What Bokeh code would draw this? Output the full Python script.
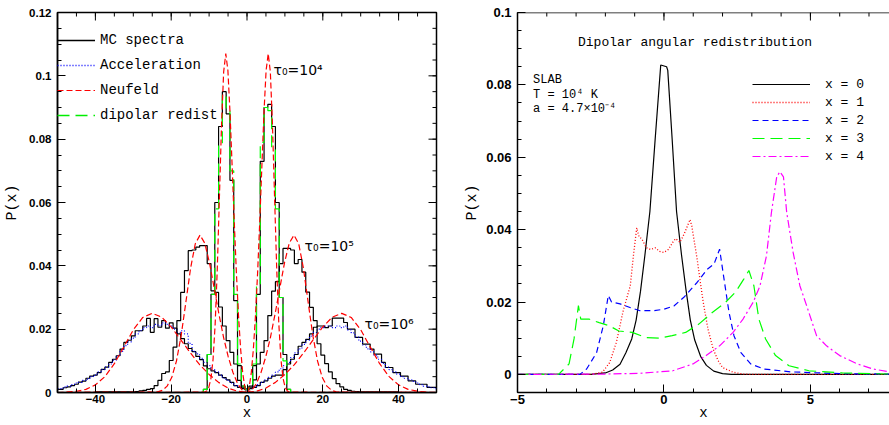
import math
from bokeh.plotting import figure
from bokeh.models import (FixedTicker, CustomJSTickFormatter, Legend, LegendItem, Label,
                          Range1d, Span)
from bokeh.layouts import row
from bokeh.embed import file_html
from bokeh.resources import INLINE

# ---------------- left panel data ----------------
mc1e4_x = list(range(-12, 13))
mc1e4_y = [0, 0.001, 0.012, 0.031, 0.060, 0.084, 0.095, 0.088, 0.067, 0.029, 0.0085, 0.002,
           0.001, 0.002, 0.0085, 0.031, 0.073, 0.090, 0.091, 0.084, 0.060, 0.030, 0.012, 0.001, 0]
dip1e4_y = [0, 0.001, 0.012, 0.031, 0.058, 0.078, 0.094, 0.089, 0.070, 0.031, 0.009, 0.002,
            0.001, 0.002, 0.009, 0.034, 0.079, 0.090, 0.089, 0.077, 0.058, 0.030, 0.010, 0.001, 0]

mc1e5_x = list(range(-30, 31))
mc1e5_y = [0.0002, 0.0003, 0.0005, 0.0007, 0.001, 0.0012, 0.0022, 0.0038, 0.006, 0.0065,
           0.0101, 0.0143, 0.0227, 0.0316, 0.0385, 0.0448, 0.045, 0.0459, 0.0464, 0.0464,
           0.0407, 0.0321, 0.0316, 0.027, 0.021, 0.0164, 0.0127, 0.009, 0.0038, 0.0015,
           0.0008,
           0.0015, 0.004, 0.009, 0.0127, 0.0164, 0.0243, 0.032, 0.035, 0.0407, 0.0455,
           0.0455, 0.045, 0.0407, 0.042, 0.038, 0.0317, 0.0269, 0.0227, 0.0154, 0.0118,
           0.0091, 0.0065, 0.0044, 0.0028, 0.0018, 0.001, 0.0007, 0.0004, 0.0003, 0.0002]

mc1e6_x = list(range(-50, 51))
mc1e6_y = [0.001, 0.001, 0.0015, 0.0018, 0.0022, 0.0026, 0.0033, 0.0036, 0.0045, 0.0052,
           0.0055, 0.0063, 0.0073, 0.008, 0.0095, 0.0105, 0.0116, 0.0137, 0.0158, 0.0165,
           0.0179, 0.0195, 0.0195, 0.021, 0.0234, 0.019, 0.0233, 0.0206, 0.0227, 0.0203,
           0.022, 0.0203, 0.0185, 0.017, 0.0154, 0.0139, 0.0129, 0.0114, 0.0104, 0.0084,
           0.0075, 0.0068, 0.0063, 0.0055, 0.0047, 0.004, 0.0032, 0.0022, 0.0016, 0.0012,
           0.001,
           0.0012, 0.0016, 0.0022, 0.0032, 0.0037, 0.0045, 0.0052, 0.0055, 0.0055, 0.0072,
           0.009, 0.0105, 0.012, 0.0146, 0.0158, 0.0168, 0.0185, 0.0206, 0.021, 0.021,
           0.0205, 0.021, 0.0235, 0.0235, 0.0235, 0.0221, 0.02, 0.02, 0.0174, 0.0174,
           0.0153, 0.0153, 0.0137, 0.0121, 0.0121, 0.0095, 0.0079, 0.0079, 0.0063, 0.0063,
           0.0052, 0.0052, 0.0037, 0.0037, 0.0026, 0.0026, 0.0026, 0.0016, 0.0016, 0.0016]
acc1e6_y = [0.0012, 0.0012, 0.0018, 0.002, 0.0025, 0.003, 0.0032, 0.0038, 0.0042, 0.005,
            0.0055, 0.0065, 0.0072, 0.008, 0.009, 0.0102, 0.0115, 0.013, 0.0148, 0.016,
            0.0172, 0.0185, 0.0195, 0.0205, 0.021, 0.0205, 0.0215, 0.021, 0.022, 0.0215,
            0.021, 0.02, 0.019, 0.0195, 0.0185, 0.0155, 0.013, 0.0122, 0.0108, 0.0095,
            0.0085, 0.0072, 0.0065, 0.0055, 0.0045, 0.0038, 0.003, 0.0022, 0.0018, 0.0014,
            0.0012,
            0.0014, 0.0018, 0.0025, 0.0032, 0.004, 0.0048, 0.0055, 0.0065, 0.0075, 0.0085,
            0.0095, 0.011, 0.0125, 0.0138, 0.0152, 0.0165, 0.0178, 0.019, 0.02, 0.0205,
            0.021, 0.021, 0.0205, 0.021, 0.0205, 0.021, 0.0198, 0.0188, 0.0175, 0.0162,
            0.015, 0.0138, 0.0128, 0.0118, 0.0105, 0.0092, 0.008, 0.0072, 0.0065, 0.0058,
            0.005, 0.0045, 0.004, 0.0035, 0.003, 0.0025, 0.002, 0.0018, 0.0015, 0.0012]

neuf1e4_x = [-50, -11.2, -10.64, -10.08, -9.52, -8.96, -8.4, -7.84, -7.28, -6.72, -6.16, -5.6,
             -5.04, -4.48, -3.92, -3.36, -2.8, -2.24, -1.68, -1.12, -0.56, 0,
             0.56, 1.12, 1.68, 2.24, 2.8, 3.36, 3.92, 4.48, 5.04, 5.6, 6.16, 6.72, 7.28,
             7.84, 8.4, 8.96, 9.52, 10.08, 10.64, 11.2, 50]
neuf1e4_y = [0, 0.0001, 0.0005, 0.0016, 0.0044, 0.0104, 0.0216, 0.0391, 0.0616, 0.0845, 0.1012,
             0.107, 0.1017, 0.0884, 0.0714, 0.0538, 0.0378, 0.0243, 0.0137, 0.0061, 0.0015, 0,
             0.0015, 0.0061, 0.0137, 0.0243, 0.0378, 0.0538, 0.0714, 0.0884, 0.1017, 0.107,
             0.1012, 0.0845, 0.0616, 0.0391, 0.0216, 0.0104, 0.0044, 0.0016, 0.0005, 0.0001, 0]

neuf1e5_x = [-50, -24.8, -23.56, -22.32, -21.08, -19.84, -18.6, -17.36, -16.12, -14.88, -13.64,
             -12.4, -11.16, -9.92, -8.68, -7.44, -6.2, -4.96, -3.72, -2.48, -1.24, 0,
             1.24, 2.48, 3.72, 4.96, 6.2, 7.44, 8.68, 9.92, 11.16, 12.4, 13.64, 14.88, 16.12,
             17.36, 18.6, 19.84, 21.08, 22.32, 23.56, 24.8, 50]
neuf1e5_y = [0, 0.0001, 0.0002, 0.0007, 0.0020, 0.0048, 0.0100, 0.0181, 0.0286, 0.0393, 0.0470,
             0.0497, 0.0472, 0.0411, 0.0331, 0.0250, 0.0175, 0.0113, 0.0064, 0.0028, 0.0007, 0,
             0.0007, 0.0028, 0.0064, 0.0113, 0.0175, 0.0250, 0.0331, 0.0411, 0.0472, 0.0497,
             0.0470, 0.0393, 0.0286, 0.0181, 0.0100, 0.0048, 0.0020, 0.0007, 0.0002, 0.0001, 0]

neuf1e6_x = [-50, -47.5, -45, -42.5, -40, -37.5, -35, -32.5, -30, -27.5, -25, -22.5, -20,
             -17.5, -15, -12.5, -10, -7.5, -5, -2.5, 0, 2.5, 5, 7.5, 10, 12.5, 15, 17.5, 20,
             22.5, 25, 27.5, 30, 32.5, 35, 37.5, 40, 42.5, 45, 47.5, 50]
neuf1e6_y = [0.0, 0.0001, 0.0004, 0.0010, 0.0024, 0.0050, 0.0091, 0.0144, 0.0198, 0.0237, 0.025,
             0.0238, 0.0207, 0.0167, 0.0126, 0.0088, 0.0057, 0.0032, 0.0014, 0.0004, 0,
             0.0004, 0.0014, 0.0032, 0.0057, 0.0088, 0.0126, 0.0167, 0.0207, 0.0238, 0.025,
             0.0237, 0.0198, 0.0144, 0.0091, 0.0050, 0.0024, 0.0010, 0.0004, 0.0001, 0.0]

# ---------------- right panel data ----------------
x0_x = [-5.0, -2.5, -2.0, -1.75, -1.5, -1.3, -1.1, -0.95, -0.8, -0.65, -0.48, -0.3, -0.11, 0.09,
        0.13, 0.28, 0.43, 0.6, 0.75, 0.9, 1.05, 1.25, 1.45, 1.7, 2.0, 2.3, 7.7]
x0_y = [0, 0, 0.0004, 0.0012, 0.0028, 0.006, 0.0098, 0.015, 0.023, 0.033, 0.045, 0.065, 0.0855,
        0.085, 0.084, 0.065, 0.045, 0.033, 0.0235, 0.015, 0.0095, 0.005, 0.0025, 0.0009, 0.0002,
        0, 0]
x1_x = [-5.0, -2.5, -2.1, -1.85, -1.62, -1.4, -1.15, -1.04, -0.93, -0.85, -0.76, -0.6, -0.45,
        -0.3, -0.15, 0.0, 0.15, 0.3, 0.4, 0.55, 0.7, 0.89, 0.95, 1.05, 1.13, 1.25, 1.34, 1.5,
        1.68, 1.85, 2.0, 2.36, 2.7, 3.0, 7.7]
x1_y = [0, 0, 0.0006, 0.0033, 0.009, 0.0173, 0.0245, 0.033, 0.0405, 0.038, 0.0375, 0.035, 0.0345,
        0.035, 0.034, 0.0337, 0.0345, 0.0365, 0.0375, 0.0365, 0.039, 0.0428, 0.041, 0.036, 0.032,
        0.025, 0.02, 0.0126, 0.007, 0.0038, 0.0019, 0.0006, 0.0001, 0, 0]
x2_x = [-5.0, -2.87, -2.64, -2.3, -2.07, -1.9, -1.79, -1.5, -1.16, -0.82, -0.36, 0.0, 0.34, 0.68,
        1.13, 1.47, 1.71, 1.9, 2.05, 2.22, 2.39, 2.62, 2.96, 3.41, 4.32, 6.03, 7.7]
x2_y = [0, 0, 0.0015, 0.006, 0.0135, 0.0218, 0.02, 0.0195, 0.0185, 0.0176, 0.0176, 0.018, 0.0189,
        0.0213, 0.0254, 0.029, 0.0305, 0.0346, 0.0264, 0.0172, 0.0107, 0.0061, 0.0029, 0.0015,
        0.0007, 0.0002, 0.0001]
x3_x = [-5.0, -3.6, -3.24, -3.07, -2.92, -2.84, -2.56, -2.21, -1.88, -1.54, -1.08, -0.63, -0.17,
        0.28, 0.74, 1.19, 1.65, 2.1, 2.44, 2.73, 2.9, 3.07, 3.24, 3.47, 3.81, 4.27, 4.95, 6.09, 7.7]
x3_y = [0, 0, 0.0029, 0.0098, 0.019, 0.0153, 0.0153, 0.0143, 0.0135, 0.012, 0.0116, 0.0102, 0.01,
        0.0107, 0.0116, 0.0139, 0.0171, 0.0199, 0.0227, 0.0264, 0.0287, 0.0245, 0.0153, 0.0098,
        0.0052, 0.0024, 0.001, 0.0004, 0.0001]
x4_x = [-5.0, -2.0, -0.82, 0.3, 0.99, 1.44, 1.9, 2.36, 2.7, 3.05, 3.28, 3.5, 3.67, 3.85, 3.96,
        4.08, 4.19, 4.41, 4.64, 4.87, 5.21, 5.55, 6.0, 6.6, 7.14, 7.7]
x4_y = [0, 0.0001, 0.0003, 0.001, 0.0029, 0.0052, 0.0079, 0.0116, 0.0153, 0.02, 0.0245, 0.0328,
        0.0448, 0.0546, 0.056, 0.0546, 0.0448, 0.0337, 0.0245, 0.019, 0.0107, 0.0079, 0.0052,
        0.0029, 0.0015, 0.0007]

left_xticks = [-40, -20, 0, 20, 40]
left_yticks = [0, 0.02, 0.04, 0.06, 0.08, 0.1, 0.12]
right_xticks = [-5, 0, 5]
right_yticks = [0, 0.02, 0.04, 0.06, 0.08, 0.1]
left_labels = ["MC spectra", "Acceleration", "Neufeld", "dipolar redist"]
right_labels = ["x = 0", "x = 1", "x = 2", "x = 3", "x = 4"]
tau_labels = ["τ₀=10⁴", "τ₀=10⁵", "τ₀=10⁶"]

fmt_code = "return Number(tick.toFixed(4)).toString().replace('-', '\\u2212');"


def style_axis(ax, ticks, minor, size, standoff):
    ax.ticker = FixedTicker(ticks=ticks, minor_ticks=minor)
    ax.formatter = CustomJSTickFormatter(code=fmt_code)
    ax.major_tick_in = 8
    ax.major_tick_out = 0
    ax.minor_tick_in = 4
    ax.minor_tick_out = 0
    ax.axis_line_width = 1.5
    ax.axis_line_color = "black"
    ax.major_tick_line_color = "black"
    ax.minor_tick_line_color = "black"
    ax.major_label_text_font = "Liberation Sans"
    ax.major_label_text_font_style = "bold"
    ax.major_label_text_font_size = size
    ax.major_label_text_color = "black"
    ax.major_label_standoff = standoff


def axis_title(ax, text, size, standoff):
    ax.axis_label = text
    ax.axis_label_text_font = "Liberation Mono"
    ax.axis_label_text_font_size = size
    ax.axis_label_text_font_style = "normal"
    ax.axis_label_text_color = "black"
    ax.axis_label_standoff = standoff


def mirror_ticks(p, xticks, xminor, ytop, yticks=None, yminor=None, xright=None):
    # inward tick marks on the top (and right) frame edges
    p.ray(x=xticks, y=[ytop] * len(xticks), length=8, length_units="screen",
          angle=-math.pi / 2, line_color="black", line_width=1)
    p.ray(x=xminor, y=[ytop] * len(xminor), length=4, length_units="screen",
          angle=-math.pi / 2, line_color="black", line_width=1)
    if yticks is not None:
        p.ray(x=[xright] * len(yticks), y=yticks, length=8, length_units="screen",
              angle=math.pi, line_color="black", line_width=1)
        p.ray(x=[xright] * len(yminor), y=yminor, length=4, length_units="screen",
              angle=math.pi, line_color="black", line_width=1)


def base(p):
    p.xgrid.visible = False
    p.ygrid.visible = False
    p.background_fill_color = "white"
    p.border_fill_color = "white"


# ================= LEFT =================
p1 = figure(width=440, height=425, x_range=Range1d(-50, 50), y_range=Range1d(0, 0.12),
            output_backend="svg", toolbar_location=None,
            min_border_left=57, min_border_right=4, min_border_top=12, min_border_bottom=33)
base(p1)
p1.outline_line_color = "black"
p1.outline_line_width = 1.5
ly_minor = [i * 0.005 for i in range(25)]
lx_minor = list(range(-50, 51, 5))
style_axis(p1.xaxis[0], left_xticks, lx_minor, "11.5px", 2)
style_axis(p1.yaxis[0], left_yticks, ly_minor, "11.5px", 6)
axis_title(p1.yaxis[0], "P(x)", "15px", 5)
axis_title(p1.xaxis[0], "x", "14px", -1)
mirror_ticks(p1, left_xticks, lx_minor, 0.12, left_yticks, ly_minor, 50)

r_mc6 = p1.step(mc1e6_x, mc1e6_y, mode="center", line_color="black", line_width=1.2)
r_acc = p1.step(mc1e6_x, acc1e6_y, mode="center", line_color="#0000ff", line_width=1.2,
                line_dash="1 2")
r_mc5 = p1.step([-50] + mc1e5_x + [50], [0] + mc1e5_y + [0], mode="center",
                line_color="black", line_width=1.2)
r_mc4 = p1.step([-50] + mc1e4_x + [50], [0] + mc1e4_y + [0], mode="center",
                line_color="black", line_width=1.2)
r_dip = p1.step([-50] + mc1e4_x + [50], [0] + dip1e4_y + [0], mode="center",
                line_color="#00ff00", line_width=1.2, line_dash="12 6")
r_n4 = p1.line(neuf1e4_x, neuf1e4_y, line_color="#ff0000", line_width=1.2, line_dash="6 3")
r_n5 = p1.line(neuf1e5_x, neuf1e5_y, line_color="#ff0000", line_width=1.2, line_dash="6 3")
r_n6 = p1.line(neuf1e6_x, neuf1e6_y, line_color="#ff0000", line_width=1.2, line_dash="6 3")

# legend swatches: one-point lines (draw nothing in the plot) in the curves' styles
k_mc = p1.line(x=[-50], y=[0], line_color="black", line_width=1.3)
k_acc = p1.line(x=[-50], y=[0], line_color="#0000ff", line_width=1.5, line_dash="1 2")
k_dip = p1.line(x=[-50], y=[0], line_color="#00ee00", line_width=1.5, line_dash="12 6")

leg1 = Legend(items=[LegendItem(label=left_labels[0], renderers=[k_mc]),
                     LegendItem(label=left_labels[1], renderers=[k_acc]),
                     LegendItem(label=left_labels[2], renderers=[r_n4]),
                     LegendItem(label=left_labels[3], renderers=[k_dip])],
              location=(0, 267), border_line_color=None, background_fill_alpha=0,
              padding=0, margin=0, spacing=5, glyph_width=38, glyph_height=20,
              label_height=20, label_standoff=5, label_text_font="Liberation Mono",
              label_text_font_size="14px", label_text_color="black")
p1.add_layout(leg1)

for (tx, ty), t in zip([(7, 0.1017), (15.2, 0.0464), (31, 0.0216)], tau_labels):
    p1.add_layout(Label(x=tx, y=ty, text=t, text_baseline="middle", text_font="DejaVu Sans",
                        text_font_size="14px", text_color="black"))

# ================= RIGHT =================
p2 = figure(width=449, height=425, x_range=Range1d(-5, 7.7), y_range=Range1d(-0.005, 0.1),
            output_backend="svg", toolbar_location=None,
            min_border_left=77, min_border_right=0, min_border_top=12, min_border_bottom=33)
base(p2)
p2.outline_line_color = None
ry_minor = [-0.005 + i * 0.005 for i in range(22)]
rx_minor = list(range(-5, 9))
style_axis(p2.xaxis[0], right_xticks, rx_minor, "13px", 2)
style_axis(p2.yaxis[0], right_yticks, ry_minor, "13px", 6)
axis_title(p2.yaxis[0], "P(x)", "15px", 2)
axis_title(p2.xaxis[0], "x", "14px", -2)
p2.add_layout(Span(location=0.1, dimension="width", line_color="black", line_width=1.5))
mirror_ticks(p2, right_xticks, rx_minor, 0.1)

q0 = p2.line(x0_x, x0_y, line_color="black", line_width=1.2)
q1 = p2.line(x1_x, x1_y, line_color="#ff0000", line_width=1.3, line_dash="1 2")
q2 = p2.line(x2_x, x2_y, line_color="#0000ff", line_width=1.2, line_dash="6 4")
q3 = p2.line(x3_x, x3_y, line_color="#00ff00", line_width=1.2, line_dash="12 6")
q4 = p2.line(x4_x, x4_y, line_color="#ff00ff", line_width=1.2, line_dash="8 3 2 3")

leg2 = Legend(items=[LegendItem(label=l, renderers=[r]) for l, r in
                     zip(right_labels, [q0, q1, q2, q3, q4])],
              location=(235, 227), border_line_color=None, background_fill_alpha=0,
              padding=0, margin=0, spacing=0, glyph_width=58, glyph_height=18,
              label_height=18, label_standoff=15, label_text_font="Liberation Mono",
              label_text_font_size="13px", label_text_color="black")
p2.add_layout(leg2)

p2.add_layout(Label(x=1.06, y=0.0916, text="Dipolar angular redistribution",
                    text_align="center", text_baseline="middle", text_font="Liberation Mono",
                    text_font_size="13px", text_color="black"))
for ty, t in zip([0.0813, 0.0772, 0.0733], ["SLAB", "T = 10⁴ K", "a = 4.7×10⁻⁴"]):
    p2.add_layout(Label(x=-4.47, y=ty, text=t, text_baseline="middle",
                        text_font="Liberation Mono", text_font_size="12px",
                        text_color="black"))

layout = row(p1, p2)
with open("out.html", "w", encoding="utf-8") as f:
    f.write(file_html(layout, INLINE))
